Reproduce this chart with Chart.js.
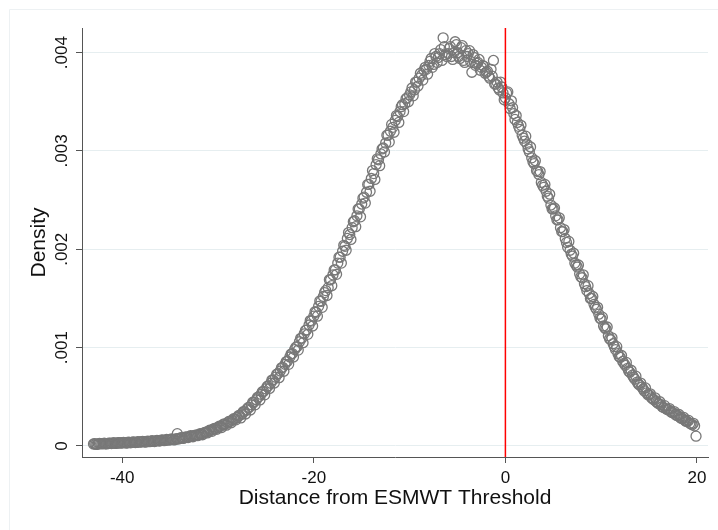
<!DOCTYPE html>
<html>
<head>
<meta charset="utf-8">
<script src="https://cdn.jsdelivr.net/npm/chart.js@4"></script>
<style>
  html, body { margin: 0; padding: 0; background: #ffffff; }
  #wrap { width: 718px; height: 530px; }
</style>
</head>
<body>
<div id="wrap"><canvas id="chart" width="718" height="530"></canvas></div>
<script>
// -------- DATA --------
// puntos en pasos de 0.25
const distance = [
  -43, -42.75, -42.5, -42.25,  -42, -41.75, -41.5, -41.25,
  -41, -40.75, -40.5, -40.25,  -40, -39.75, -39.5, -39.25,
  -39, -38.75, -38.5, -38.25,  -38, -37.75, -37.5, -37.25,
  -37, -36.75, -36.5, -36.25,  -36, -35.75, -35.5, -35.25,
  -35, -34.75, -34.5, -34.25,  -34, -33.75, -33.5, -33.25,
  -33, -32.75, -32.5, -32.25,  -32, -31.75, -31.5, -31.25,
  -31, -30.75, -30.5, -30.25,  -30, -29.75, -29.5, -29.25,
  -29, -28.75, -28.5, -28.25,  -28, -27.75, -27.5, -27.25,
  -27, -26.75, -26.5, -26.25,  -26, -25.75, -25.5, -25.25,
  -25, -24.75, -24.5, -24.25,  -24, -23.75, -23.5, -23.25,
  -23, -22.75, -22.5, -22.25,  -22, -21.75, -21.5, -21.25,
  -21, -20.75, -20.5, -20.25,  -20, -19.75, -19.5, -19.25,
  -19, -18.75, -18.5, -18.25,  -18, -17.75, -17.5, -17.25,
  -17, -16.75, -16.5, -16.25,  -16, -15.75, -15.5, -15.25,
  -15, -14.75, -14.5, -14.25,  -14, -13.75, -13.5, -13.25,
  -13, -12.75, -12.5, -12.25,  -12, -11.75, -11.5, -11.25,
  -11, -10.75, -10.5, -10.25,  -10, -9.75, -9.5, -9.25,
  -9, -8.75, -8.5, -8.25,      -8, -7.75, -7.5, -7.25,
  -7, -6.75, -6.5, -6.25,      -6, -5.75, -5.5, -5.25,
  -5, -4.75, -4.5, -4.25,      -4, -3.75, -3.5, -3.25,
  -3, -2.75, -2.5, -2.25,      -2, -1.75, -1.5, -1.25,
  -1, -0.75, -0.5, -0.25,      0, 0.25, 0.5, 0.75,
  1, 1.25, 1.5, 1.75,          2, 2.25, 2.5, 2.75,
  3, 3.25, 3.5, 3.75,          4, 4.25, 4.5, 4.75,
  5, 5.25, 5.5, 5.75,          6, 6.25, 6.5, 6.75,
  7, 7.25, 7.5, 7.75,          8, 8.25, 8.5, 8.75,
  9, 9.25, 9.5, 9.75,          10, 10.25, 10.5, 10.75,
  11, 11.25, 11.5, 11.75,      12, 12.25, 12.5, 12.75,
  13, 13.25, 13.5, 13.75,      14, 14.25, 14.5, 14.75,
  15, 15.25, 15.5, 15.75,      16, 16.25, 16.5, 16.75,
  17, 17.25, 17.5, 17.75,      18, 18.25, 18.5, 18.75,
  19, 19.25, 19.5, 19.75,      19.9
];

const density = [
  .000020, .000018, .000022, .000024,  .000025, .000022, .000027, .000028,
  .000030, .000027, .000031, .000033,  .000032, .000035, .000030, .000036,
  .000037, .000040, .000036, .000041,  .000042, .000045, .000041, .000047,
  .000048, .000046, .000052, .000054,  .000055, .000060, .000057, .000063,
  .000065, .000068, .000064, .000125,  .000078, .000082, .000086, .000090,
  .000095, .000100, .000104, .000110,  .000115, .000122, .000130, .000140,
  .000150, .000158, .000170, .000178,  .000190, .000200, .000214, .000222,
  .000235, .000250, .000262, .000275,  .000290, .000310, .000326, .000350,
  .000370, .000392, .000418, .000445,  .000470, .000500, .000525, .000555,
  .000580, .000612, .000638, .000672,  .000700, .000735, .000762, .000800,
  .000830, .000862, .000905, .000940,  .000980, .001010, .001060, .001095,
  .001140, .001180, .001230, .001270,  .001320, .001360, .001420, .001470,
  .001520, .001580, .001610, .001690,  .001740, .001790, .001860, .001920,
  .001980, .002030, .002110, .002150,  .002220, .002290, .002340, .002410,
  .002460, .002530, .002580, .002660,  .002720, .002770, .002860, .002910,
  .002970, .003030, .003080, .003160,  .003200, .003240, .003310, .003350,
  .003400, .003470, .003480, .003540,  .003570, .003640, .003620, .003700,
  .003740, .003770, .003820, .003830,  .003870, .003940, .003880, .003960,
  .003950, .004030, .004150, .003980,  .003990, .004060, .003930, .004110,
  .004000, .003940, .004070, .003900,  .003960, .004020, .003800, .003950,
  .003890, .003930, .003850, .003860,  .003800, .003760, .003830, .003920,
  .003680, .003640, .003700, .003590,  .003540, .003600, .003430, .003440,
  .003320, .003290, .003220, .003160,  .003100, .003070, .002990, .002930,
  .002870, .002800, .002760, .002680,  .002630, .002590, .002520, .002450,
  .002410, .002340, .002300, .002220,  .002180, .002110, .002020, .001990,
  .001930, .001860, .001820, .001750,  .001710, .001650, .001580, .001550,
  .001500, .001440, .001390, .001340,  .001290, .001220, .001190, .001120,
  .001080, .001040, .000980, .000940,  .000900, .000860, .000820, .000790,
  .000750, .000720, .000680, .000650,  .000620, .000600, .000560, .000540,
  .000520, .000490, .000470, .000450,  .000430, .000420, .000390, .000380,
  .000370, .000350, .000340, .000320,  .000310, .000290, .000280, .000260,
  .000250, .000230, .000215, .000205,  .000100
];

// puntos intermedios (desfasados 0.125)
const distanceMid = [
  -42.875, -42.625, -42.375, -42.125,  -41.875, -41.625, -41.375, -41.125,
  -40.875, -40.625, -40.375, -40.125,  -39.875, -39.625, -39.375, -39.125,
  -38.875, -38.625, -38.375, -38.125,  -37.875, -37.625, -37.375, -37.125,
  -36.875, -36.625, -36.375, -36.125,  -35.875, -35.625, -35.375, -35.125,
  -34.875, -34.625, -34.375, -34.125,  -33.875, -33.625, -33.375, -33.125,
  -32.875, -32.625, -32.375, -32.125,  -31.875, -31.625, -31.375, -31.125,
  -30.875, -30.625, -30.375, -30.125,  -29.875, -29.625, -29.375, -29.125,
  -28.875, -28.625, -28.375, -28.125,  -27.875, -27.625, -27.375, -27.125,
  -26.875, -26.625, -26.375, -26.125,  -25.875, -25.625, -25.375, -25.125,
  -24.875, -24.625, -24.375, -24.125,  -23.875, -23.625, -23.375, -23.125,
  -22.875, -22.625, -22.375, -22.125,  -21.875, -21.625, -21.375, -21.125,
  -20.875, -20.625, -20.375, -20.125,  -19.875, -19.625, -19.375, -19.125,
  -18.875, -18.625, -18.375, -18.125,  -17.875, -17.625, -17.375, -17.125,
  -16.875, -16.625, -16.375, -16.125,  -15.875, -15.625, -15.375, -15.125,
  -14.875, -14.625, -14.375, -14.125,  -13.875, -13.625, -13.375, -13.125,
  -12.875, -12.625, -12.375, -12.125,  -11.875, -11.625, -11.375, -11.125,
  -10.875, -10.625, -10.375, -10.125,  -9.875, -9.625, -9.375, -9.125,
  -8.875, -8.625, -8.375, -8.125,      -7.875, -7.625, -7.375, -7.125,
  -6.875, -6.625, -6.375, -6.125,      -5.875, -5.625, -5.375, -5.125,
  -4.875, -4.625, -4.375, -4.125,      -3.875, -3.625, -3.375, -3.125,
  -2.875, -2.625, -2.375, -2.125,      -1.875, -1.625, -1.375, -1.125,
  -0.875, -0.625, -0.375, -0.125,      0.125, 0.375, 0.625, 0.875,
  1.125, 1.375, 1.625, 1.875,          2.125, 2.375, 2.625, 2.875,
  3.125, 3.375, 3.625, 3.875,          4.125, 4.375, 4.625, 4.875,
  5.125, 5.375, 5.625, 5.875,          6.125, 6.375, 6.625, 6.875,
  7.125, 7.375, 7.625, 7.875,          8.125, 8.375, 8.625, 8.875,
  9.125, 9.375, 9.625, 9.875,          10.125, 10.375, 10.625, 10.875,
  11.125, 11.375, 11.625, 11.875,      12.125, 12.375, 12.625, 12.875,
  13.125, 13.375, 13.625, 13.875,      14.125, 14.375, 14.625, 14.875,
  15.125, 15.375, 15.625, 15.875,      16.125, 16.375, 16.625, 16.875,
  17.125, 17.375, 17.625, 17.875,      18.125, 18.375, 18.625, 18.875,
  19.125, 19.375, 19.625
];

const densityMid = [
  .000023, .000016, .000026, .000021,  .000028, .000021, .000030, .000025,
  .000034, .000026, .000035, .000029,  .000037, .000031, .000039, .000033,
  .000042, .000035, .000044, .000039,  .000046, .000040, .000050, .000044,
  .000053, .000045, .000057, .000050,  .000062, .000054, .000066, .000059,
  .000072, .000062, .000075, .000071,  .000085, .000077, .000093, .000086,
  .000104, .000094, .000111, .000105,  .000125, .000114, .000139, .000133,
  .000160, .000149, .000180, .000170,  .000201, .000188, .000225, .000212,
  .000250, .000236, .000277, .000266,  .000308, .000285, .000348, .000325,
  .000390, .000366, .000445, .000418,  .000495, .000468, .000552, .000520,
  .000605, .000585, .000670, .000640,  .000730, .000695, .000795, .000760,
  .000858, .000830, .000935, .000905,  .001005, .000975, .001095, .001050,
  .001175, .001135, .001275, .001220,  .001365, .001320, .001475, .001410,
  .001560, .001530, .001690, .001630,  .001790, .001745, .001920, .001860,
  .002040, .001990, .002170, .002100,  .002280, .002230, .002410, .002330,
  .002520, .002470, .002660, .002590,  .002800, .002710, .002920, .002850,
  .003020, .002990, .003160, .003090,  .003270, .003190, .003360, .003290,
  .003450, .003400, .003530, .003500,  .003600, .003560, .003700, .003660,
  .003790, .003720, .003850, .003780,  .003910, .003850, .003990, .003900,
  .003990, .003920, .004060, .003960,  .004040, .003960, .004000, .004080,
  .003960, .004050, .003920, .004020,  .003990, .003910, .003980, .003870,
  .003900, .003820, .003870, .003790,  .003810, .003740, .003760, .003680,
  .003700, .003620, .003650, .003520,  .003590, .003480, .003510, .003380,
  .003360, .003250, .003260, .003130,  .003150, .003020, .003040, .002890,
  .002900, .002790, .002790, .002650,  .002660, .002540, .002560, .002410,
  .002420, .002300, .002320, .002180,  .002200, .002070, .002080, .001950,
  .001960, .001840, .001840, .001720,  .001740, .001620, .001630, .001500,
  .001520, .001410, .001410, .001300,  .001310, .001200, .001210, .001090,
  .001100, .001010, .001010, .000910,  .000920, .000840, .000850, .000760,
  .000770, .000700, .000710, .000630,  .000640, .000580, .000590, .000520,
  .000530, .000480, .000490, .000440,  .000450, .000400, .000410, .000370,
  .000380, .000340, .000350, .000310,  .000320, .000280, .000290, .000250,
  .000260, .000225, .000230
];

const xTicks = [-40, -20, 0, 20];
const yTicks = [0, .001, .002, .003, .004];
const yTickLabels = ["0", ".001", ".002", ".003", ".004"];
const threshold = 0;

const xTitle = "Distance from ESMWT Threshold";
const yTitle = "Density";

// -------- STYLE --------
const FONT = "'Liberation Sans', Arial, Helvetica, sans-serif";
const axisColor = "#555555";
const gridColor = "#e6eef0";
const markerColor = "#787878";

const points = distance.map((d, i) => ({ x: d, y: density[i] }))
  .concat(distanceMid.map((d, i) => ({ x: d, y: densityMid[i] })));

// marco exterior claro (estilo Stata)
const outerFrame = {
  id: "outerFrame",
  beforeDraw(chart) {
    const ctx = chart.ctx;
    ctx.save();
    ctx.strokeStyle = "#edf1f3";
    ctx.lineWidth = 1;
    ctx.beginPath();
    ctx.moveTo(9.5, chart.height);
    ctx.lineTo(9.5, 9.5);
    ctx.lineTo(chart.width, 9.5);
    ctx.stroke();
    ctx.restore();
  }
};

// etiquetas verticales del eje y
const yLabels = {
  id: "yLabels",
  afterDraw(chart) {
    const ctx = chart.ctx;
    const y = chart.scales.y;
    ctx.save();
    ctx.fillStyle = "#111111";
    ctx.font = "17px " + FONT;
    ctx.textAlign = "center";
    ctx.textBaseline = "middle";
    yTicks.forEach((v, i) => {
      ctx.save();
      ctx.translate(62, y.getPixelForValue(v));
      ctx.rotate(-Math.PI / 2);
      ctx.fillText(yTickLabels[i], 0, 0);
      ctx.restore();
    });
    ctx.restore();
  }
};

// línea roja del umbral
const thresholdLine = {
  id: "thresholdLine",
  afterDatasetsDraw(chart) {
    const ctx = chart.ctx;
    const area = chart.chartArea;
    const px = chart.scales.x.getPixelForValue(threshold);
    ctx.save();
    ctx.strokeStyle = "#ff0000";
    ctx.lineWidth = 1.5;
    ctx.beginPath();
    ctx.moveTo(px, area.top);
    ctx.lineTo(px, area.bottom);
    ctx.stroke();
    ctx.restore();
  }
};

new Chart(document.getElementById("chart"), {
  type: "scatter",
  data: {
    datasets: [{
      data: points,
      pointStyle: "circle",
      pointRadius: 5,
      pointBorderWidth: 1.3,
      pointBorderColor: markerColor,
      pointBackgroundColor: "rgba(0,0,0,0)",
      showLine: false
    }]
  },
  options: {
    responsive: false,
    animation: false,
    devicePixelRatio: 1,
    layout: { padding: { top: 28, right: 10, bottom: 0, left: 0 } },
    plugins: { legend: { display: false }, tooltip: { enabled: false } },
    scales: {
      x: {
        type: "linear",
        min: -44.2,
        max: 21.15,
        afterBuildTicks: s => { s.ticks = xTicks.map(v => ({ value: v })); },
        afterFit: s => { s.height = 73; },
        grid: { drawOnChartArea: false, drawTicks: true, tickLength: 6, tickColor: axisColor },
        border: { color: axisColor, width: 1 },
        ticks: {
          color: "#111111",
          font: { family: FONT, size: 17 },
          padding: 5,
          maxRotation: 0,
          autoSkip: false,
          callback: v => String(v)
        },
        title: {
          display: true,
          text: xTitle,
          color: "#111111",
          font: { family: FONT, size: 21 },
          padding: { top: 0, bottom: 19 }
        }
      },
      y: {
        type: "linear",
        min: -0.000112,
        max: 0.00425,
        afterBuildTicks: s => { s.ticks = yTicks.map(v => ({ value: v })); },
        afterFit: s => { s.width = 82; },
        grid: { color: gridColor, lineWidth: 1, drawTicks: true, tickLength: 6, tickColor: axisColor },
        border: { color: axisColor, width: 1 },
        ticks: { display: false },
        title: {
          display: true,
          text: yTitle,
          color: "#111111",
          font: { family: FONT, size: 21 },
          padding: { top: 27, bottom: 0 }
        }
      }
    }
  },
  plugins: [outerFrame, yLabels, thresholdLine]
});
</script>
</body>
</html>
